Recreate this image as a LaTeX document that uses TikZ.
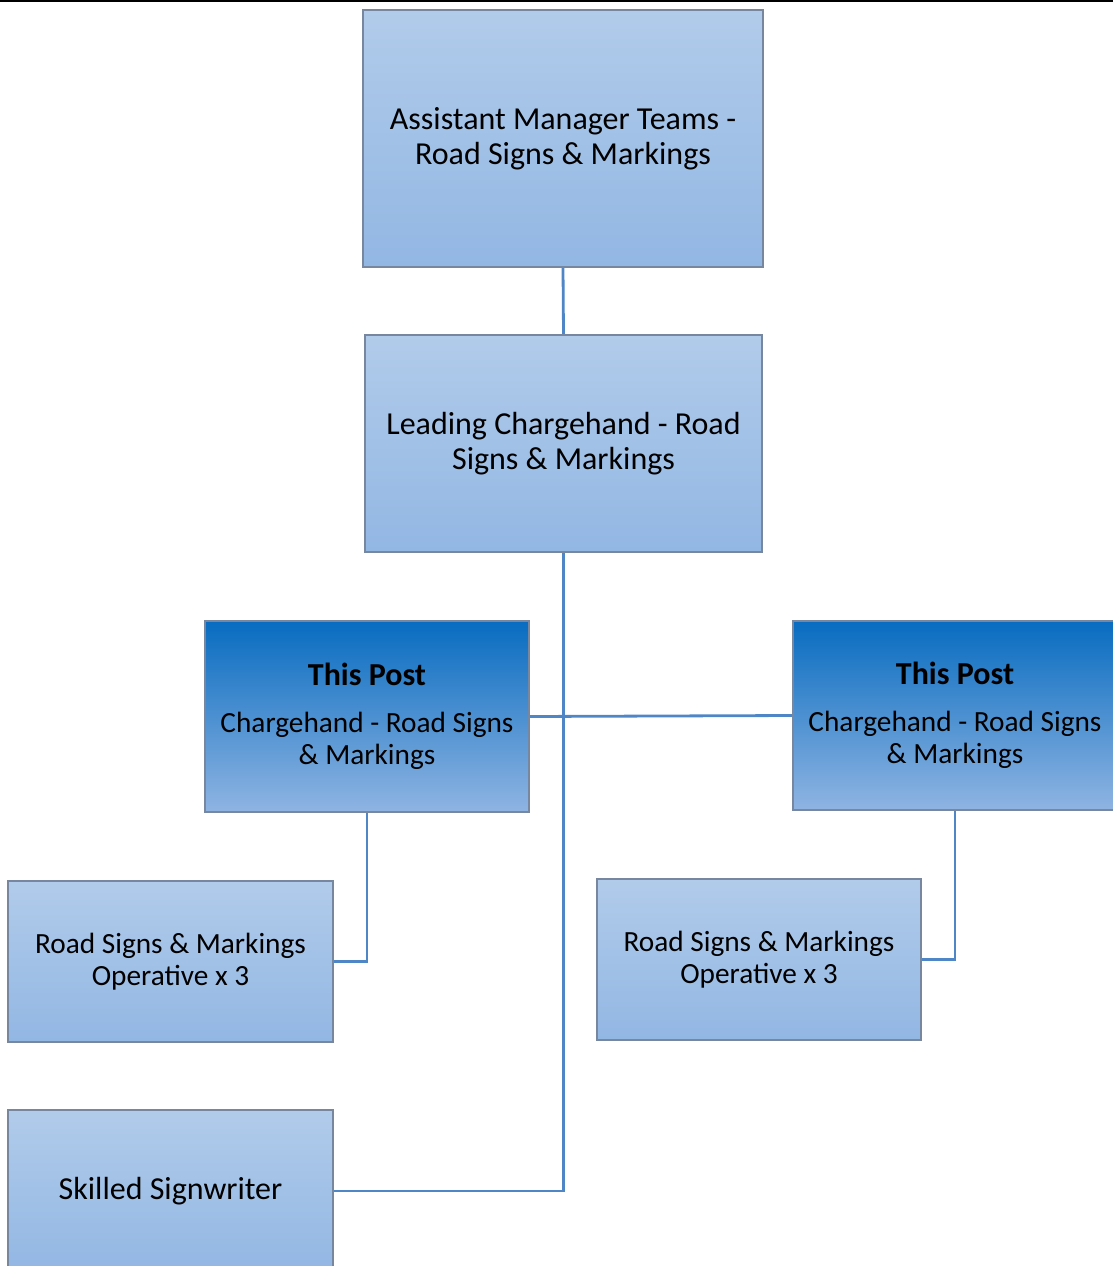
\documentclass[tikz,border=0pt]{standalone}
\usepackage{fontspec}
\setmainfont{Carlito}
\usetikzlibrary{backgrounds}

\definecolor{boxtop}{RGB}{177,203,234}
\definecolor{boxbot}{RGB}{146,183,227}
\definecolor{posttop}{RGB}{8,108,192}
\definecolor{postmid}{RGB}{168,197,232}
\definecolor{postbot}{RGB}{143,180,226}
\definecolor{boxedge}{RGB}{120,135,160}
\definecolor{linkblue}{RGB}{79,134,198}

\tikzset{
  role/.style={draw=boxedge, line width=1.2pt, top color=boxtop, bottom color=boxbot,
    align=center, inner sep=0pt, font=\fontsize{32}{34.5}\selectfont},
  smallrole/.style={role, font=\fontsize{29.3}{32.5}\selectfont},
  postbox/.style={smallrole, top color=posttop, middle color=postmid, bottom color=postbot},
  link/.style={draw=linkblue, line width=2.8pt}
}
\newcommand{\posttitle}{{\fontsize{32}{34.5}\selectfont\bfseries This Post}}

\begin{document}
\begin{tikzpicture}[x=1pt, y=-1pt]
  \useasboundingbox (0,0) rectangle (1113,1266);
  \clip (0,0) rectangle (1113,1266);
  \draw[black, line width=2pt] (0,1) -- (1113,1);

  \node[role, minimum width=400pt, minimum height=257pt] (top) at (563,138.5)
    {Assistant Manager Teams -\\Road Signs \& Markings};
  \node[role, minimum width=397pt, minimum height=217pt] (lead) at (563.5,443.5)
    {Leading Chargehand - Road\\Signs \& Markings};
  \node[postbox, minimum width=324pt, minimum height=191pt] (postL) at (367,716.5)
    {\posttitle\\[14pt]Chargehand - Road Signs\\\& Markings};
  \node[postbox, minimum width=324pt, minimum height=189pt] (postR) at (955,715.5)
    {\posttitle\\[14pt]Chargehand - Road Signs\\\& Markings};
  \node[smallrole, minimum width=325pt, minimum height=161pt] (opL) at (170.5,961.5)
    {Road Signs \& Markings\\Operative x 3};
  \node[smallrole, minimum width=324pt, minimum height=161pt] (opR) at (759,959.5)
    {Road Signs \& Markings\\Operative x 3};
  \node[role, minimum width=325pt, minimum height=162pt] (sign) at (170.5,1191)
    {Skilled Signwriter};

  \begin{scope}[on background layer]
    \draw[link] (top.south) -- (lead.north);
    \draw[link] (lead.south) |- (sign.east);
    \draw[link] (postL.east) -- (postR.west);
    \draw[link] (postL.south) |- (opL.east);
    \draw[link] (postR.south) |- (opR.east);
  \end{scope}
\end{tikzpicture}
\end{document}
